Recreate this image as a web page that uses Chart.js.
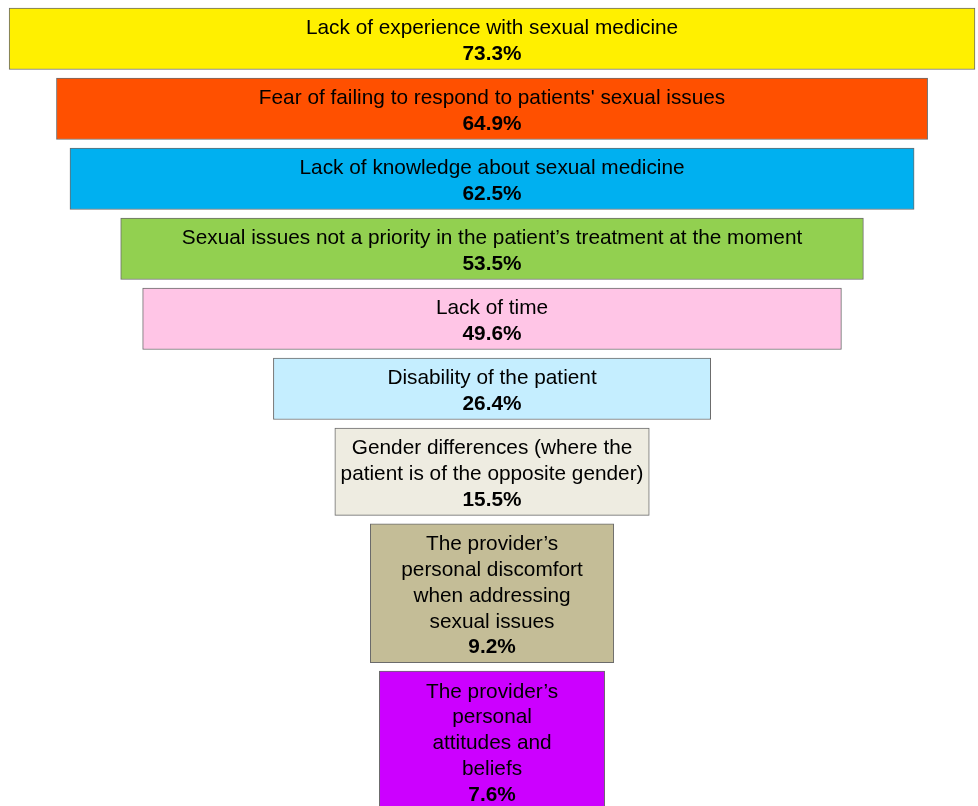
<!DOCTYPE html>
<html>
<head>
<meta charset="utf-8">
<script src="https://cdn.jsdelivr.net/npm/chart.js@4/dist/chart.umd.min.js"></script>
<style>
  html, body { margin: 0; padding: 0; background: #fff; }
  #wrap { width: 978px; height: 806px; position: relative; }
</style>
</head>
<body>
<div id="wrap"><canvas id="funnel"></canvas></div>
<script>
// --- barriers, one box per row (label lines + share in %) ---
const categories = [
    ["Lack of experience with sexual medicine"],
    ["Fear of failing to respond to patients' sexual issues"],
    ["Lack of knowledge about sexual medicine"],
    ["Sexual issues not a priority in the patient\u2019s treatment at the moment"],
    ["Lack of time"],
    ["Disability of the patient"],
    ["Gender differences (where the", "patient is of the opposite gender)"],
    ["The provider\u2019s", "personal discomfort", "when addressing", "sexual issues"],
    ["The provider\u2019s", "personal", "attitudes and", "beliefs"]
];
const shares = [73.3, 64.9, 62.5, 53.5, 49.6, 26.4, 15.5, 9.2, 7.6];
const fills = ["#FFF000", "#FF5000", "#00B0F0", "#92D050", "#FFC5E6", "#C5EEFF", "#EEECE1", "#C4BD97", "#CC00FF"];

// box geometry (in px, the y scale runs 0..806 top to bottom)
const LINE = 25.8, BASE = 9.9, GAP = 8.5, TOP = 8;
const BOX_PAD = 12.4;          // extra width (in % units) so short boxes still hold their text
const FONT = "20.8px Arial, 'Liberation Sans', sans-serif";
const FONT_B = "bold 20.8px Arial, 'Liberation Sans', sans-serif";

let cursor = TOP;
const rows = categories.map(lines => {
    const h = BASE + LINE * (lines.length + 1);
    const c = cursor + h / 2;
    cursor += h + GAP;
    return { h, c };
});

const datasets = shares.map((v, i) => ({
    label: categories[i].join(' '),
    data: [{ x: [-(v + BOX_PAD) / 2, (v + BOX_PAD) / 2], y: rows[i].c }],
    backgroundColor: fills[i],
    borderColor: '#6b6b6b',
    borderWidth: 1,
    borderSkipped: false,
    barThickness: rows[i].h,
    stack: 'funnel'
}));

// writes the label lines and the bold share inside each box
const boxText = {
    id: 'boxText',
    afterDatasetsDraw(chart) {
        const ctx = chart.ctx;
        ctx.save();
        ctx.fillStyle = '#000';
        ctx.textAlign = 'center';
        ctx.textBaseline = 'alphabetic';
        chart.data.datasets.forEach((ds, i) => {
            const el = chart.getDatasetMeta(i).data[0];
            const cx = (el.x + el.base) / 2;
            const top = el.y - el.height / 2;
            const lines = categories[i];
            ctx.font = FONT;
            lines.forEach((t, j) => ctx.fillText(t, cx, top + 26.3 + j * LINE));
            ctx.font = FONT_B;
            ctx.fillText(shares[i].toFixed(1) + '%', cx, top + 26.3 + lines.length * LINE);
        });
        ctx.restore();
    }
};

new Chart(document.getElementById('funnel'), {
    type: 'bar',
    data: { labels: [], datasets },
    options: {
        indexAxis: 'y',
        responsive: true,
        maintainAspectRatio: false,
        animation: false,
        layout: { padding: 0 },
        scales: {
            x: { type: 'linear', min: -43.66, max: 43.12, stacked: false, offset: false, grace: 0, display: false },
            y: { type: 'linear', min: 0, max: 806, reverse: true, offset: false, grace: 0, display: false }
        },
        plugins: { legend: { display: false }, tooltip: { enabled: false } }
    },
    plugins: [boxText]
});
</script>
</body>
</html>
